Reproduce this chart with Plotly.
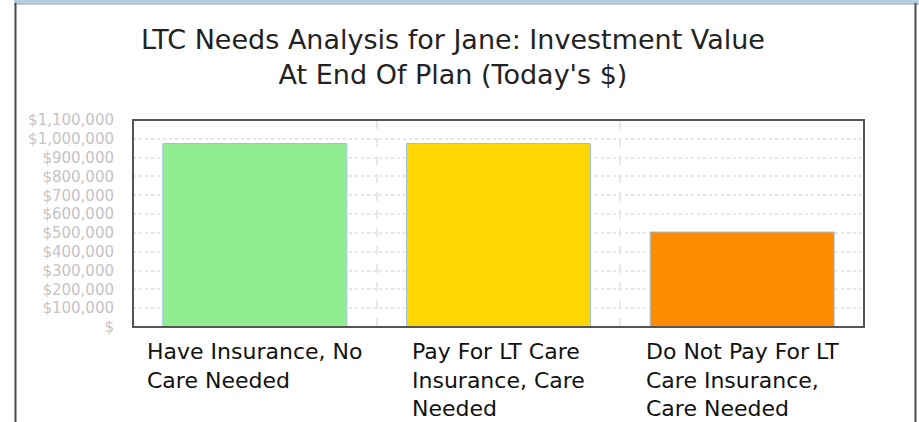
import plotly.graph_objects as go

# ---- data ----
categories = ["Have Insurance, No<br>Care Needed",
              "Pay For LT Care<br>Insurance, Care<br>Needed",
              "Do Not Pay For LT<br>Care Insurance,<br>Care Needed"]
values = [975000, 975000, 505000]
bar_colors = ["#90EE90", "#FFD700", "#FF8C00"]
tick_values = [0, 100000, 200000, 300000, 400000, 500000, 600000,
               700000, 800000, 900000, 1000000, 1100000]
tick_labels = ["$", "$100,000", "$200,000", "$300,000", "$400,000", "$500,000",
               "$600,000", "$700,000", "$800,000", "$900,000", "$1,000,000", "$1,100,000"]
title_text = "LTC Needs Analysis for Jane: Investment Value<br>At End Of Plan (Today's $)"

W, H = 919, 422
L, R, T, B = 133, 55, 120, 95
PW, PH = W - L - R, H - T - B


def px(x):
    return (x - L) / PW


def py(y):
    return (H - B - y) / PH


xs = list(range(len(categories)))

fig = go.Figure()
fig.add_trace(go.Bar(
    x=xs, y=values, width=0.755,
    marker=dict(color=bar_colors, line=dict(color="#9cc2e0", width=1)),
    hoverinfo="skip",
))

# category labels below the plot, centred block, left-aligned lines
for i, lab in enumerate(categories):
    fig.add_annotation(
        x=xs[i], y=0, xref="x", yref="paper", yanchor="top", xanchor="center",
        yshift=-10, text=lab, showarrow=False, align="left",
        font=dict(family="DejaVu Sans", size=22, color="#111111"),
    )

fig.add_annotation(
    x=px(453), y=py(57), xref="paper", yref="paper", xanchor="center", yanchor="middle",
    text=title_text, showarrow=False, align="center",
    font=dict(family="DejaVu Sans", size=27, color="#222222"),
)

shapes = [
    # plot frame
    dict(type="rect", xref="paper", yref="paper", x0=0, x1=1, y0=0, y1=1,
         line=dict(color="#555555", width=2), layer="above"),
    # window frame: top band
    dict(type="rect", xref="paper", yref="paper", x0=px(14), x1=px(919), y0=py(0), y1=py(3.5),
         fillcolor="#b4cbe2", line=dict(width=0), layer="above"),
    dict(type="line", xref="paper", yref="paper", x0=px(14), x1=px(919), y0=py(4), y1=py(4),
         line=dict(color="#8a9bb0", width=1), layer="above"),
    # left and right borders
    dict(type="line", xref="paper", yref="paper", x0=px(15.5), x1=px(15.5), y0=py(3), y1=py(422),
         line=dict(color="#4a4a4a", width=2), layer="above"),
    dict(type="line", xref="paper", yref="paper", x0=px(915.5), x1=px(915.5), y0=py(3), y1=py(422),
         line=dict(color="#4a4a4a", width=2), layer="above"),
]

fig.update_layout(
    width=W, height=H,
    margin=dict(l=L, r=R, t=T, b=B, pad=0),
    paper_bgcolor="white", plot_bgcolor="white",
    showlegend=False,
    shapes=shapes,
    xaxis=dict(range=[-0.5, 2.5], showticklabels=False, showgrid=False, zeroline=False,
               ticks="", fixedrange=True,
               minor=dict(tickvals=[0.5, 1.5], showgrid=True, gridcolor="#e8e8e8",
                          griddash="dash", gridwidth=2, ticks="")),
    yaxis=dict(range=[0, 1100000], tickvals=tick_values, ticktext=tick_labels,
               showgrid=True, gridcolor="#e6e6e6", griddash="dot", gridwidth=2,
               zeroline=False, ticks="", ticklabelstandoff=18, fixedrange=True,
               tickfont=dict(family="DejaVu Sans", size=15, color="#c4c4c4")),
)

fig.write_html("out.html", config={"displayModeBar": False},
               post_script="document.body.style.margin='0px';")
